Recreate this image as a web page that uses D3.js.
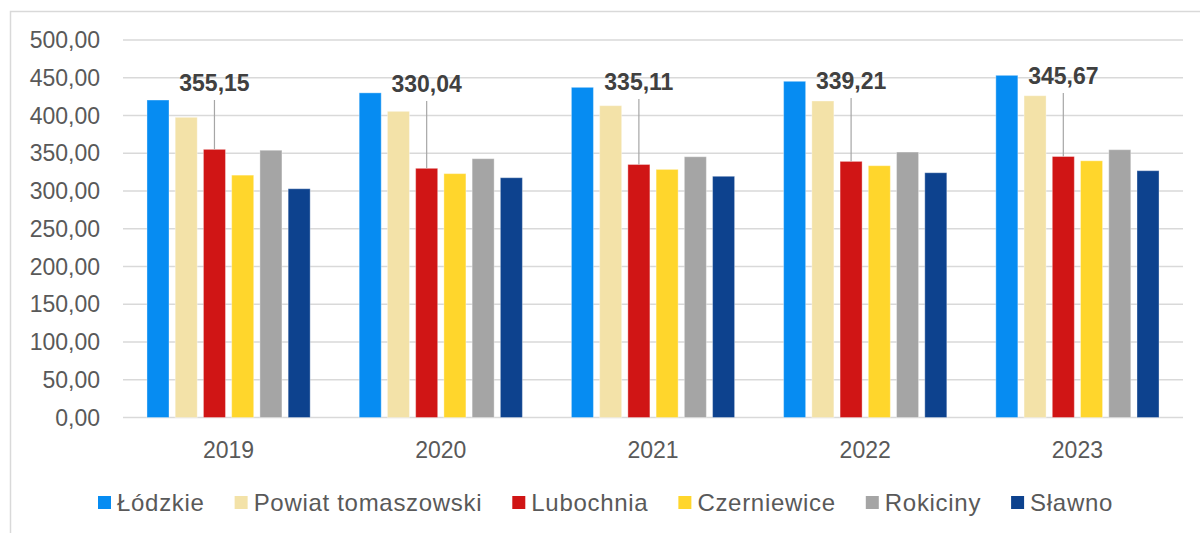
<!DOCTYPE html>
<html>
<head>
<meta charset="utf-8">
<script src="https://cdn.jsdelivr.net/npm/d3@7"></script>
<style>
  html, body { margin: 0; padding: 0; background: #fff; }
  svg { display: block; font-family: "Liberation Sans", Arial, sans-serif; }
  .grid line { stroke: #d9d9d9; stroke-width: 1.5; }
  .tick-label { fill: #595959; font-size: 23px; }
  .callout { fill: #404040; font-size: 23px; font-weight: bold; }
  .legend text { fill: #595959; font-size: 24px; letter-spacing: 0.7px; }
</style>
</head>
<body>
<div id="chart"></div>
<script>
const years = ['2019', '2020', '2021', '2022', '2023']
const series = ['Łódzkie', 'Powiat tomaszowski', 'Lubochnia', 'Czerniewice', 'Rokiciny', 'Sławno']
const colors = ['#068cf2', '#f3e2a8', '#d01515', '#ffd62c', '#a5a5a5', '#0d428e']

// one array per series, values per year
const lodzkie = [420.5, 430.0, 437.3, 445.3, 453.2]
const powiat = [397.6, 405.5, 413.0, 419.2, 426.2]
const lubochnia = [355.15, 330.04, 335.11, 339.21, 345.67]
const czerniewice = [321.0, 323.0, 328.6, 333.5, 340.0]
const rokiciny = [354.0, 342.8, 345.4, 351.6, 354.7]
const slawno = [303.0, 317.6, 319.5, 324.2, 326.9]

const yTicks = [0, 50, 100, 150, 200, 250, 300, 350, 400, 450, 500]

// callout sits on the Lubochnia bar
const CALLOUT_SERIES = 2
const CALLOUT_Y = [91, 92, 90, 89, 84]

const width = 1200
const height = 533
const values = [lodzkie, powiat, lubochnia, czerniewice, rokiciny, slawno]
const fmt = v => d3.format('.2f')(v).replace('.', ',')

const svg = d3.select('#chart')
    .append('svg')
    .attr('width', width)
    .attr('height', height)

// chart frame (top + left edges visible)
svg.append('path')
    .attr('d', 'M10.5,533 L10.5,11.5 L1200,11.5')
    .attr('fill', 'none')
    .attr('stroke', '#d9d9d9')
    .attr('stroke-width', 1.5)

const x0 = d3.scaleBand()
    .domain(years)
    .range([123, 1183])
    .paddingInner(0.231)
    .paddingOuter(0.113)

const x1 = d3.scaleBand()
    .domain(series)
    .range([0, x0.bandwidth()])
    .paddingInner(0.22)

const y = d3.scaleLinear()
    .domain([0, 500])
    .range([417.5, 40])

// gridlines
svg.append('g')
    .attr('class', 'grid')
    .selectAll('line')
    .data(yTicks)
    .enter()
    .append('line')
    .attr('x1', 123)
    .attr('x2', 1183)
    .attr('y1', d => y(d))
    .attr('y2', d => y(d))

// y tick labels
svg.append('g')
    .selectAll('text')
    .data(yTicks)
    .enter()
    .append('text')
    .attr('class', 'tick-label')
    .attr('x', 100)
    .attr('y', d => y(d) + 8)
    .attr('text-anchor', 'end')
    .text(d => fmt(d))

// bars
const group = svg.selectAll('.year')
    .data(years)
    .enter()
    .append('g')
    .attr('class', 'year')
    .attr('transform', d => `translate(${x0(d)},0)`)

group.selectAll('rect')
    .data((d, i) => series.map((s, j) => ({ s, j, v: values[j][i] })))
    .enter()
    .append('rect')
    .attr('x', d => x1(d.s))
    .attr('width', x1.bandwidth())
    .attr('y', d => y(d.v))
    .attr('height', d => y(0) - y(d.v))
    .attr('fill', d => colors[d.j])
    .attr('stroke', 'rgba(255,255,255,0.35)')
    .attr('stroke-width', 1)

// x labels
group.append('text')
    .attr('class', 'tick-label')
    .attr('x', x0.bandwidth() / 2)
    .attr('y', 458)
    .attr('text-anchor', 'middle')
    .text(d => d)

// callouts with leader lines
group.each(function (d, i) {
    const g = d3.select(this)
    const cx = x1(series[CALLOUT_SERIES]) + x1.bandwidth() / 2
    const v = values[CALLOUT_SERIES][i]
    g.append('line')
        .attr('x1', cx)
        .attr('x2', cx)
        .attr('y1', CALLOUT_Y[i] + 9)
        .attr('y2', y(v))
        .attr('stroke', '#a6a6a6')
        .attr('stroke-width', 1.2)
    g.append('text')
        .attr('class', 'callout')
        .attr('x', cx)
        .attr('y', CALLOUT_Y[i])
        .attr('text-anchor', 'middle')
        .text(fmt(v))
})

// legend, flowed left to right
const legend = svg.append('g').attr('class', 'legend')
let lx = 98
series.forEach((s, j) => {
    const item = legend.append('g').attr('transform', `translate(${lx},0)`)
    item.append('rect')
        .attr('x', 0)
        .attr('y', 496)
        .attr('width', 13)
        .attr('height', 13)
        .attr('fill', colors[j])
    const t = item.append('text')
        .attr('x', 19)
        .attr('y', 511)
        .text(s)
    lx += 19 + t.node().getComputedTextLength() + 30
})
</script>
</body>
</html>
